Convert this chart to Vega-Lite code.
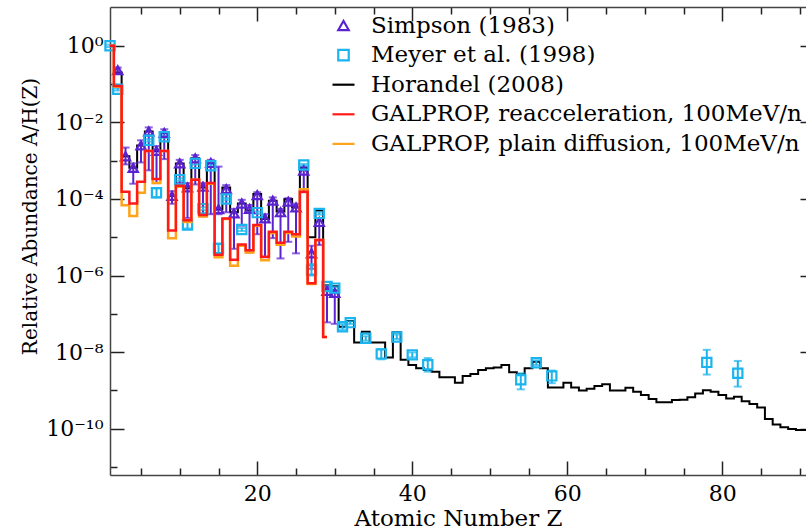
{
  "$schema": "https://vega.github.io/schema/vega-lite/v6.json",
  "width": 696,
  "height": 468,
  "autosize": {"type": "none"},
  "padding": {"left": 110, "top": 7, "right": 0, "bottom": 55},
  "background": "white",
  "config": {
    "font": "DejaVu Serif",
    "view": {"stroke": null},
    "axis": {"domainColor": "#444", "domainWidth": 1.5, "tickColor": "#222", "tickWidth": 1.5, "grid": false, "labelColor": "black", "titleColor": "black", "titleFontWeight": "normal"}
  },
  "datasets": {
    "horandel": [
      {"Z":1,"v":1.0},{"Z":2,"v":0.2},{"Z":3,"v":1.3e-3},{"Z":4,"v":6.5e-4},{"Z":5,"v":2.5e-3},{"Z":6,"v":5.8e-3},{"Z":7,"v":1.8e-3},{"Z":8,"v":5.3e-3},{"Z":9,"v":1.2e-4},{"Z":10,"v":8.5e-4},
      {"Z":11,"v":1.9e-4},{"Z":12,"v":1.15e-3},{"Z":13,"v":2.0e-4},{"Z":14,"v":8.6e-4},{"Z":15,"v":5.3e-5},{"Z":16,"v":2.0e-4},{"Z":17,"v":4.5e-5},{"Z":18,"v":7.6e-5},{"Z":19,"v":5.0e-5},{"Z":20,"v":1.35e-4},
      {"Z":21,"v":3.0e-5},{"Z":22,"v":9.0e-5},{"Z":23,"v":4.7e-5},{"Z":24,"v":1.0e-4},{"Z":25,"v":6.0e-5},{"Z":26,"v":6.5e-4},{"Z":27,"v":1.0e-5},{"Z":28,"v":5.0e-5},{"Z":29,"v":5.6e-7},{"Z":30,"v":5.3e-7},
      {"Z":31,"v":4.6e-8},{"Z":32,"v":6.5e-8},{"Z":33,"v":1.8e-8},{"Z":34,"v":3.4e-8},{"Z":35,"v":1.8e-8},{"Z":36,"v":1.8e-8},{"Z":37,"v":7.3e-9},{"Z":38,"v":3.3e-8},{"Z":39,"v":6.3e-9},{"Z":40,"v":4.6e-9},
      {"Z":41,"v":3.8e-9},{"Z":42,"v":3.4e-9},{"Z":43,"v":3.1e-9},{"Z":44,"v":2.2e-9},{"Z":45,"v":2.2e-9},{"Z":46,"v":1.6e-9},{"Z":47,"v":2.4e-9},{"Z":48,"v":2.7e-9},{"Z":49,"v":3.4e-9},{"Z":50,"v":3.8e-9},
      {"Z":51,"v":4.0e-9},{"Z":52,"v":4.6e-9},{"Z":53,"v":3.0e-9},{"Z":54,"v":2.7e-9},{"Z":55,"v":3.8e-9},{"Z":56,"v":5.6e-9},{"Z":57,"v":3.8e-9},{"Z":58,"v":1.2e-9},{"Z":59,"v":1.2e-9},{"Z":60,"v":1.6e-9},
      {"Z":61,"v":1.2e-9},{"Z":62,"v":1.0e-9},{"Z":63,"v":1.1e-9},{"Z":64,"v":1.3e-9},{"Z":65,"v":1.45e-9},{"Z":66,"v":1.0e-9},{"Z":67,"v":1.0e-9},{"Z":68,"v":1.17e-9},{"Z":69,"v":9.3e-10},{"Z":70,"v":7.6e-10},
      {"Z":71,"v":6.0e-10},{"Z":72,"v":4.9e-10},{"Z":73,"v":4.9e-10},{"Z":74,"v":5.6e-10},{"Z":75,"v":5.7e-10},{"Z":76,"v":6.6e-10},{"Z":77,"v":8.3e-10},{"Z":78,"v":1.02e-9},{"Z":79,"v":9.3e-10},{"Z":80,"v":7.6e-10},
      {"Z":81,"v":6.2e-10},{"Z":82,"v":6.9e-10},{"Z":83,"v":5.2e-10},{"Z":84,"v":4.4e-10},{"Z":85,"v":3.6e-10},{"Z":86,"v":1.8e-10},{"Z":87,"v":1.3e-10},{"Z":88,"v":1.1e-10},{"Z":89,"v":9.8e-11},{"Z":90,"v":9.3e-11},
      {"Z":91,"v":9.3e-11},{"Z":92,"v":9.0e-11}
    ],
    "reacc": [
      {"Z":1,"v":1.0},{"Z":2,"v":0.089},{"Z":3,"v":1.55e-4},{"Z":4,"v":7.6e-5},{"Z":5,"v":2.8e-4},{"Z":6,"v":1.8e-3},{"Z":7,"v":3.3e-4},{"Z":8,"v":1.8e-3},{"Z":9,"v":1.5e-5},{"Z":10,"v":2.2e-4},
      {"Z":11,"v":2.8e-5},{"Z":12,"v":3.2e-4},{"Z":13,"v":3.8e-5},{"Z":14,"v":2.6e-4},{"Z":15,"v":3.5e-6},{"Z":16,"v":3.1e-5},{"Z":17,"v":2.6e-6},{"Z":18,"v":6.5e-6},{"Z":19,"v":4.6e-6},{"Z":20,"v":2.1e-5},
      {"Z":21,"v":3.1e-6},{"Z":22,"v":1.4e-5},{"Z":23,"v":7.2e-6},{"Z":24,"v":1.4e-5},{"Z":25,"v":1.2e-5},{"Z":26,"v":1.55e-4},{"Z":27,"v":6.3e-7},{"Z":28,"v":8.5e-6},{"Z":29,"v":2.5e-8}
    ],
    "plain": [
      {"Z":1,"v":1.0},{"Z":2,"v":0.085},{"Z":3,"v":6.9e-5},{"Z":4,"v":3.6e-5},{"Z":5,"v":1.45e-4},{"Z":6,"v":1.8e-3},{"Z":7,"v":2.6e-4},{"Z":8,"v":1.8e-3},{"Z":9,"v":9.4e-6},{"Z":10,"v":2.1e-4},
      {"Z":11,"v":2.5e-5},{"Z":12,"v":3.2e-4},{"Z":13,"v":3.5e-5},{"Z":14,"v":2.5e-4},{"Z":15,"v":3.0e-6},{"Z":16,"v":3.0e-5},{"Z":17,"v":1.8e-6},{"Z":18,"v":6.0e-6},{"Z":19,"v":4.0e-6},{"Z":20,"v":2.0e-5},
      {"Z":21,"v":2.5e-6},{"Z":22,"v":1.3e-5},{"Z":23,"v":6.4e-6},{"Z":24,"v":1.3e-5},{"Z":25,"v":1.05e-5},{"Z":26,"v":1.8e-4},{"Z":27,"v":6.0e-7},{"Z":28,"v":8.5e-6},{"Z":29,"v":2.5e-8}
    ],
    "points": [
      {"series":"Simpson (1983)","Z":2,"v":0.23,"lo":0.2,"hi":0.27},
      {"series":"Simpson (1983)","Z":3,"v":1.3e-3,"lo":8e-4,"hi":2.2e-3},
      {"series":"Simpson (1983)","Z":4,"v":6.5e-4,"lo":2.5e-4,"hi":8.5e-4},
      {"series":"Simpson (1983)","Z":5,"v":2.5e-3,"lo":9e-4,"hi":3.4e-3},
      {"series":"Simpson (1983)","Z":6,"v":5.8e-3,"lo":5.6e-4,"hi":7.4e-3},
      {"series":"Simpson (1983)","Z":7,"v":1.8e-3,"lo":2.6e-4,"hi":2.4e-3},
      {"series":"Simpson (1983)","Z":8,"v":5.3e-3,"lo":1.1e-3,"hi":6.6e-3},
      {"series":"Simpson (1983)","Z":9,"v":1.2e-4,"lo":7.5e-5,"hi":1.6e-4},
      {"series":"Simpson (1983)","Z":10,"v":8.5e-4,"lo":2.6e-4,"hi":1.05e-3},
      {"series":"Simpson (1983)","Z":11,"v":2.0e-4,"lo":3.2e-5,"hi":2.6e-4},
      {"series":"Simpson (1983)","Z":12,"v":1.15e-3,"lo":2.4e-4,"hi":1.4e-3},
      {"series":"Simpson (1983)","Z":13,"v":2.1e-4,"lo":3.5e-5,"hi":2.6e-4},
      {"series":"Simpson (1983)","Z":14,"v":8.7e-4,"lo":4e-5,"hi":1.05e-3},
      {"series":"Simpson (1983)","Z":15,"v":5.4e-5,"lo":4e-5,"hi":7e-4},
      {"series":"Simpson (1983)","Z":16,"v":1.8e-4,"lo":4.5e-5,"hi":2.3e-4},
      {"series":"Simpson (1983)","Z":17,"v":4.2e-5,"lo":5e-6,"hi":5.5e-5},
      {"series":"Simpson (1983)","Z":18,"v":7.6e-5,"lo":2e-5,"hi":9.5e-5},
      {"series":"Simpson (1983)","Z":19,"v":5.5e-5,"lo":4e-6,"hi":7e-5},
      {"series":"Simpson (1983)","Z":20,"v":1.26e-4,"lo":1.2e-5,"hi":1.5e-4},
      {"series":"Simpson (1983)","Z":21,"v":3.1e-5,"lo":3e-6,"hi":4e-5},
      {"series":"Simpson (1983)","Z":22,"v":9.0e-5,"lo":9.5e-6,"hi":1.1e-4},
      {"series":"Simpson (1983)","Z":23,"v":4.5e-5,"lo":2.8e-6,"hi":5.5e-5},
      {"series":"Simpson (1983)","Z":24,"v":8.5e-5,"lo":7.6e-6,"hi":1.05e-4},
      {"series":"Simpson (1983)","Z":25,"v":6.0e-5,"lo":3.8e-6,"hi":7.5e-5},
      {"series":"Simpson (1983)","Z":26,"v":5.5e-4,"lo":1.5e-4,"hi":7e-4},
      {"series":"Simpson (1983)","Z":27,"v":3.8e-6,"lo":1.5e-6,"hi":6e-6},
      {"series":"Simpson (1983)","Z":28,"v":2.5e-5,"lo":6.3e-6,"hi":3.2e-5},
      {"series":"Simpson (1983)","Z":29,"v":4e-7,"lo":6e-8,"hi":5e-7},
      {"series":"Simpson (1983)","Z":30,"v":3.5e-7,"lo":5.5e-8,"hi":4.2e-7},
      {"series":"Meyer et al. (1998)","Z":1,"v":1.0,"lo":0.93,"hi":1.07},
      {"series":"Meyer et al. (1998)","Z":2,"v":0.073,"lo":0.068,"hi":0.078},
      {"series":"Meyer et al. (1998)","Z":6,"v":3.4e-3,"lo":3.15e-3,"hi":3.65e-3},
      {"series":"Meyer et al. (1998)","Z":7,"v":1.45e-4,"lo":1.1e-4,"hi":1.9e-4},
      {"series":"Meyer et al. (1998)","Z":8,"v":4.2e-3,"lo":3.9e-3,"hi":4.5e-3},
      {"series":"Meyer et al. (1998)","Z":10,"v":3.2e-4,"lo":2.95e-4,"hi":3.45e-4},
      {"series":"Meyer et al. (1998)","Z":11,"v":2.1e-5,"lo":1.7e-5,"hi":2.6e-5},
      {"series":"Meyer et al. (1998)","Z":12,"v":8.5e-4,"lo":7.9e-4,"hi":9.1e-4},
      {"series":"Meyer et al. (1998)","Z":13,"v":5.6e-5,"lo":5.1e-5,"hi":6.1e-5},
      {"series":"Meyer et al. (1998)","Z":14,"v":7.4e-4,"lo":6.9e-4,"hi":7.9e-4},
      {"series":"Meyer et al. (1998)","Z":15,"v":5.1e-6,"lo":3.8e-6,"hi":6.8e-6},
      {"series":"Meyer et al. (1998)","Z":16,"v":1.0e-4,"lo":9.3e-5,"hi":1.07e-4},
      {"series":"Meyer et al. (1998)","Z":18,"v":1.6e-5,"lo":1.45e-5,"hi":1.75e-5},
      {"series":"Meyer et al. (1998)","Z":20,"v":4.4e-5,"lo":4.1e-5,"hi":4.7e-5},
      {"series":"Meyer et al. (1998)","Z":26,"v":7.7e-4,"lo":7.2e-4,"hi":8.2e-4},
      {"series":"Meyer et al. (1998)","Z":27,"v":1.4e-6,"lo":1.0e-6,"hi":2.0e-6},
      {"series":"Meyer et al. (1998)","Z":28,"v":4.2e-5,"lo":3.9e-5,"hi":4.5e-5},
      {"series":"Meyer et al. (1998)","Z":29,"v":5.2e-7,"lo":4.8e-7,"hi":5.6e-7},
      {"series":"Meyer et al. (1998)","Z":30,"v":4.7e-7,"lo":4.3e-7,"hi":5.1e-7},
      {"series":"Meyer et al. (1998)","Z":31,"v":4.6e-8,"lo":3.9e-8,"hi":5.4e-8},
      {"series":"Meyer et al. (1998)","Z":32,"v":5.9e-8,"lo":5.4e-8,"hi":6.4e-8},
      {"series":"Meyer et al. (1998)","Z":34,"v":2.3e-8,"lo":2.0e-8,"hi":2.6e-8},
      {"series":"Meyer et al. (1998)","Z":36,"v":9.0e-9,"lo":6.5e-9,"hi":1.2e-8},
      {"series":"Meyer et al. (1998)","Z":38,"v":2.5e-8,"lo":2.2e-8,"hi":2.9e-8},
      {"series":"Meyer et al. (1998)","Z":40,"v":8.5e-9,"lo":7.3e-9,"hi":9.9e-9},
      {"series":"Meyer et al. (1998)","Z":42,"v":4.7e-9,"lo":3.1e-9,"hi":7.0e-9},
      {"series":"Meyer et al. (1998)","Z":54,"v":1.9e-9,"lo":1.07e-9,"hi":2.8e-9},
      {"series":"Meyer et al. (1998)","Z":56,"v":5.3e-9,"lo":4.6e-9,"hi":6.1e-9},
      {"series":"Meyer et al. (1998)","Z":58,"v":2.4e-9,"lo":1.55e-9,"hi":3.3e-9},
      {"series":"Meyer et al. (1998)","Z":78,"v":5.4e-9,"lo":2.6e-9,"hi":1.15e-8},
      {"series":"Meyer et al. (1998)","Z":82,"v":2.8e-9,"lo":1.26e-9,"hi":5.9e-9}
    ]
  },
  "layer": [
    {
      "data": {"name": "horandel"},
      "mark": {"type": "line", "interpolate": "step", "color": "black", "strokeWidth": 2, "clip": true},
      "encoding": {
        "x": {"field": "Z", "type": "quantitative", "scale": {"domain": [1, 90.8], "nice": false, "zero": false},
          "axis": {"orient": "bottom", "values": [5,10,15,20,25,30,35,40,45,50,55,60,65,70,75,80,85,90],
            "tickSize": {"condition": {"test": "datum.value % 20 == 0", "value": -14}, "value": -7},
            "labelExpr": "datum.value % 20 == 0 ? datum.label : ''", "labelFontSize": 22, "labelPadding": 22, "labelBaseline": "top",
            "title": "Atomic Number Z", "titleFontSize": 23, "titlePadding": 3}},
        "y": {"field": "v", "type": "quantitative", "scale": {"type": "log", "domain": [6.2e-12, 10.3], "nice": false},
          "axis": {"orient": "left", "values": [1e-11,1e-10,1e-9,1e-8,1e-7,1e-6,1e-5,1e-4,1e-3,1e-2,1e-1,1],
            "tickSize": {"condition": {"test": "abs(round(log(datum.value)/LN10)) % 2 == 0", "value": -14}, "value": -7},
            "labelExpr": "abs(round(log(datum.value)/LN10)) % 2 == 1 ? '' : (round(log(datum.value)/LN10) == 0 ? '10⁰' : round(log(datum.value)/LN10) == -2 ? '10⁻²' : round(log(datum.value)/LN10) == -4 ? '10⁻⁴' : round(log(datum.value)/LN10) == -6 ? '10⁻⁶' : round(log(datum.value)/LN10) == -8 ? '10⁻⁸' : round(log(datum.value)/LN10) == -10 ? '10⁻¹⁰' : '')",
            "labelFontSize": 22, "labelPadding": 21, "labelBaseline": "middle", "labelAlign": "right",
            "title": "Relative Abundance A/H(Z)", "titleFontSize": 20, "titleY": 209, "titleX": -80, "titleBaseline": "middle"}}
      }
    },
    {
      "data": {"name": "points"},
      "transform": [{"filter": "datum.series == 'Simpson (1983)'"}],
      "mark": {"type": "errorbar", "ticks": {"size": 8, "thickness": 2, "color": "#5b22cf"}, "rule": {"strokeWidth": 2, "color": "#5b22cf"}, "color": "#5b22cf"},
      "encoding": {
        "x": {"field": "Z", "type": "quantitative", "scale": {"domain": [1, 90.8], "nice": false, "zero": false}, "axis": null},
        "y": {"field": "lo", "type": "quantitative", "scale": {"type": "log", "domain": [6.2e-12, 10.3], "nice": false}, "axis": null},
        "y2": {"field": "hi"}
      }
    },
    {
      "data": {"name": "points"},
      "transform": [{"filter": "datum.series == 'Meyer et al. (1998)'"}],
      "mark": {"type": "errorbar", "ticks": {"size": 8, "thickness": 2, "color": "#1ab4ee"}, "rule": {"strokeWidth": 2, "color": "#1ab4ee"}, "color": "#1ab4ee"},
      "encoding": {
        "x": {"field": "Z", "type": "quantitative", "scale": {"domain": [1, 90.8], "nice": false, "zero": false}, "axis": null},
        "y": {"field": "lo", "type": "quantitative", "scale": {"type": "log", "domain": [6.2e-12, 10.3], "nice": false}, "axis": null},
        "y2": {"field": "hi"}
      }
    },
    {
      "data": {"name": "points"},
      "mark": {"type": "point", "filled": false, "strokeWidth": 2.2, "size": 85, "opacity": 1},
      "encoding": {
        "x": {"field": "Z", "type": "quantitative", "scale": {"domain": [1, 90.8], "nice": false, "zero": false}, "axis": null},
        "y": {"field": "v", "type": "quantitative", "scale": {"type": "log", "domain": [6.2e-12, 10.3], "nice": false}, "axis": null},
        "color": {"field": "series", "type": "nominal",
          "scale": {"domain": ["Simpson (1983)", "Meyer et al. (1998)", "Horandel (2008)", "GALPROP, reacceleration, 100MeV/n", "GALPROP, plain diffusion, 100MeV/n"],
                    "range": ["#5b22cf", "#1ab4ee", "#000000", "#ff1a1a", "#ffa31a"]},
          "legend": {"orient": "none", "legendX": 222, "legendY": 7, "title": null, "labelFontSize": 23, "labelFont": "DejaVu Serif", "labelColor": "black",
                     "symbolSize": 110, "symbolStrokeWidth": 2.2, "labelOffset": 16, "rowPadding": 5.6, "labelLimit": 600}},
        "shape": {"field": "series", "type": "nominal",
          "scale": {"domain": ["Simpson (1983)", "Meyer et al. (1998)", "Horandel (2008)", "GALPROP, reacceleration, 100MeV/n", "GALPROP, plain diffusion, 100MeV/n"],
                    "range": ["triangle-up", "square", "M-2.1,0H2.1", "M-2.1,0H2.1", "M-2.1,0H2.1"]}}
      }
    },
    {
      "data": {"name": "plain"},
      "mark": {"type": "line", "interpolate": "step", "color": "#ffa31a", "strokeWidth": 2.5, "clip": true},
      "encoding": {
        "x": {"field": "Z", "type": "quantitative", "scale": {"domain": [1, 90.8], "nice": false, "zero": false}, "axis": null},
        "y": {"field": "v", "type": "quantitative", "scale": {"type": "log", "domain": [6.2e-12, 10.3], "nice": false}, "axis": null}
      }
    },
    {
      "data": {"name": "reacc"},
      "mark": {"type": "line", "interpolate": "step", "color": "#ff1a1a", "strokeWidth": 2.5, "clip": true},
      "encoding": {
        "x": {"field": "Z", "type": "quantitative", "scale": {"domain": [1, 90.8], "nice": false, "zero": false},
          "axis": {"orient": "top", "values": [5,10,15,20,25,30,35,40,45,50,55,60,65,70,75,80,85,90],
            "tickSize": {"condition": {"test": "datum.value % 20 == 0", "value": -14}, "value": -7},
            "labels": false, "title": null}},
        "y": {"field": "v", "type": "quantitative", "scale": {"type": "log", "domain": [6.2e-12, 10.3], "nice": false},
          "axis": {"orient": "right", "values": [1e-10,1e-8,1e-6,1e-4,1e-2,1], "tickSize": -6, "domain": false, "labels": false, "title": null}}
      }
    }
  ],
  "resolve": {"axis": {"x": "independent", "y": "independent"}}
}
